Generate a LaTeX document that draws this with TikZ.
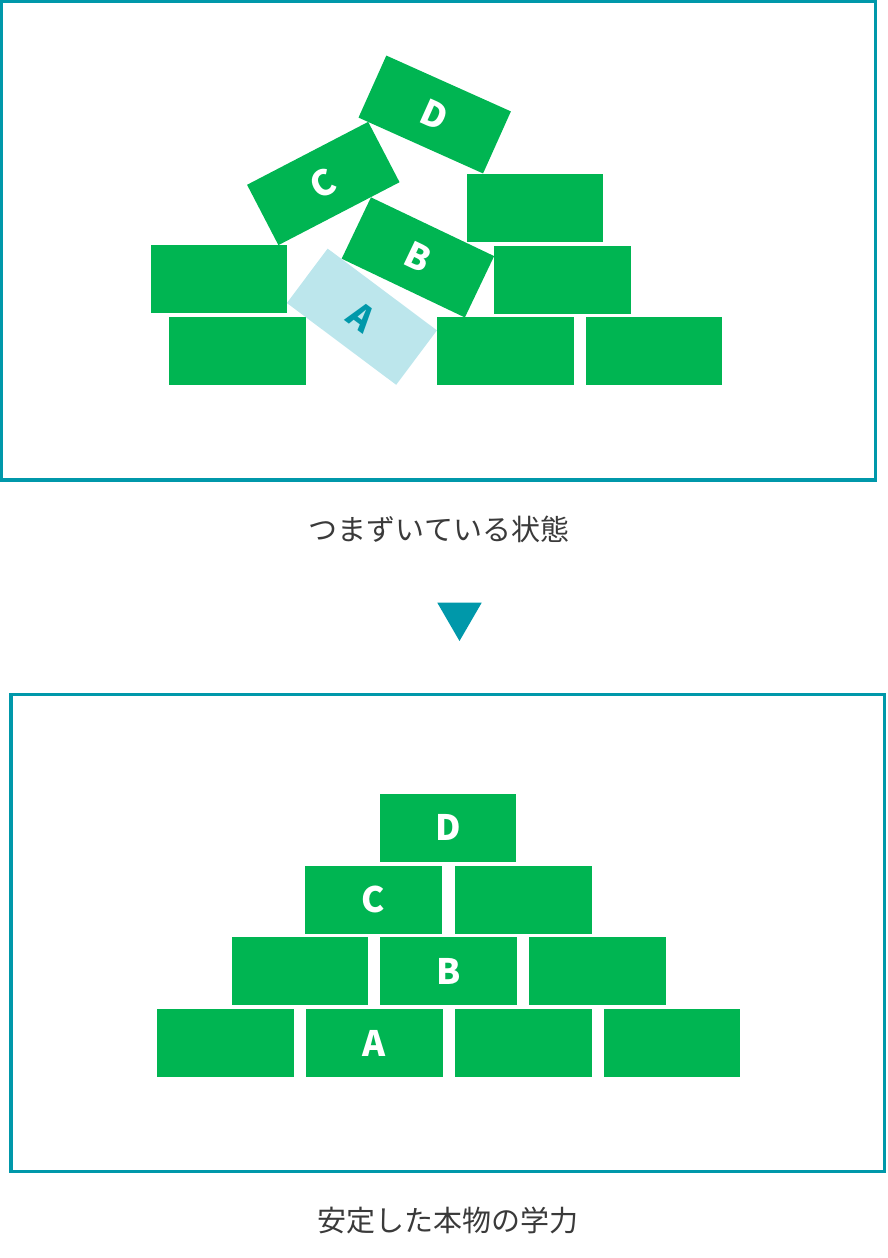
\documentclass[tikz,border=0pt]{standalone}
\usepackage{fontspec}
\setmainfont{Noto Sans CJK JP}
\definecolor{teal}{HTML}{0098AA}
\definecolor{brickgreen}{HTML}{00B552}
\definecolor{paleblue}{HTML}{BCE6EC}
\definecolor{textgray}{HTML}{3A3A3A}
\tikzset{
  panel/.style={draw=teal, line width=3.3pt},
  brick/.style={fill=brickgreen, minimum width=136.5pt, minimum height=68pt, inner sep=0pt,
    text=white, font=\fontsize{35}{37}\selectfont\bfseries},
  loosebrick/.style={brick, fill=paleblue, text=teal},
  caption/.style={text=textgray, font=\fontsize{29}{31}\selectfont, inner sep=0pt}
}
\begin{document}
\begin{tikzpicture}[x=1pt, y=-1pt]
\useasboundingbox (0,0) rectangle (888,1258);
% panels
\draw[panel] (1.6,1.6) rectangle (875.7,480);
\draw[panel] (11,694.3) rectangle (884.3,1171.7);
% top panel: stumbling state
\node[brick] (tl1) at (219,279.3) {};
\node[brick] (tl2) at (237.5,351) {};
\node[brick] (tr1) at (535,207.7) {};
\node[brick] (tr2) at (562.3,279.5) {};
\node[brick] (tr3) at (505.7,351.2) {};
\node[brick] (tr4) at (653.9,351.2) {};
\node[loosebrick, rotate=-36.8] (ta) at (361.9,316.7) {A};
\node[brick, rotate=-25.5] (tb) at (417.9,257.4) {B};
\node[brick, rotate=27.45] (tc) at (323.3,183.5) {C};
\node[brick, rotate=-24.15] (td) at (434.7,114.5) {D};
\node[caption] (cap1) at (439,529) {つまずいている状態};
% arrow triangle
\fill[teal] (437.3,602.7) -- (481.7,602.7) -- (459.5,641) -- cycle;
% bottom panel: stable pyramid
\node[brick] (b11) at (225.6,1043) {};
\node[brick] (ba) at (374.3,1043) {A};
\node[brick] (b13) at (523.3,1043) {};
\node[brick] (b14) at (672,1043) {};
\node[brick] (b21) at (299.8,971.2) {};
\node[brick] (bb) at (448.6,971.2) {B};
\node[brick] (b23) at (597.5,971.2) {};
\node[brick] (bc) at (373.6,899.5) {C};
\node[brick] (b32) at (523.3,899.5) {};
\node[brick] (bd) at (448.2,827.7) {D};
\node[caption] (cap2) at (447.5,1220) {安定した本物の学力};
\end{tikzpicture}
\end{document}
